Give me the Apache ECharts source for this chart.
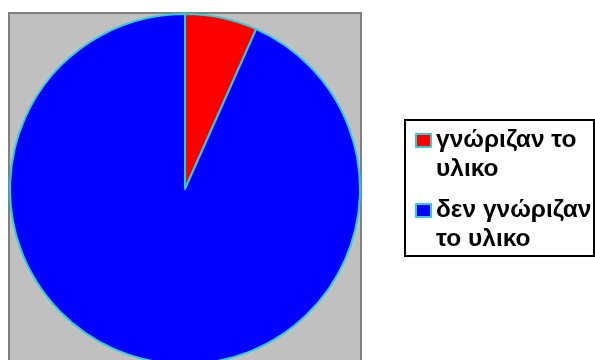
<!DOCTYPE html>
<html lang="el">
<head>
    <meta charset="UTF-8">
    <title>pie</title>
    <script src="https://cdn.jsdelivr.net/npm/echarts@6/dist/echarts.min.js"></script>
</head>
<style>
    *{
        margin: 0;
        padding: 0;
    }
    html , body{
        width: 100%;
        height: 100%;
        overflow: hidden;
        background: #fff;
    }
    .container{
        width: 595px;
        height: 360px;
    }
</style>
<body>
<div class="container"></div>
<script>
    // δεδομένα
    let categories = ['γνώριζαν το υλικο', 'δεν γνώριζαν το υλικο'];
    let legendLabels = ['γνώριζαν το\nυλικο', 'δεν γνώριζαν\nτο υλικο'];
    let values = [2, 28];
    let colors = ['#ff0000', '#0000ff'];

    let container = document.querySelector('.container');
    let mycharts = echarts.init(container);

    let data = categories.map((name, i) => ({
        name: name,
        value: values[i],
        itemStyle: {color: colors[i]}
    }));

    let option = {
        animation: false,
        graphic: [
            {
                type: 'rect',
                shape: {x: 9, y: 13, width: 352, height: 352},
                style: {fill: '#c0c0c0', stroke: '#808080', lineWidth: 2},
                z: -10
            },
            {
                type: 'rect',
                shape: {x: 405, y: 120, width: 189, height: 136},
                style: {fill: '#fff', stroke: '#000', lineWidth: 2},
                z: -10
            }
        ],
        legend: {
            orient: 'vertical',
            left: 415,
            top: 97,
            padding: 0,
            itemWidth: 15,
            itemHeight: 13,
            itemGap: -17,
            icon: 'rect',
            data: categories,
            // empty first line so the icon sits beside the first text line
            formatter: name => '\n' + legendLabels[categories.indexOf(name)],
            itemStyle: {borderColor: '#33cccc', borderWidth: 2},
            textStyle: {
                fontFamily: 'Liberation Sans, Arial',
                fontWeight: 'bold',
                fontSize: 24.5,
                color: '#000',
                lineHeight: 29
            }
        },
        series: [{
            type: 'pie',
            center: [185, 189],
            radius: 175,
            startAngle: 90,
            clockwise: true,
            label: {show: false},
            labelLine: {show: false},
            emphasis: {disabled: true},
            itemStyle: {borderColor: '#33cccc', borderWidth: 2},
            data: data
        }]
    };
    mycharts.setOption(option);
</script>
</body>
</html>
